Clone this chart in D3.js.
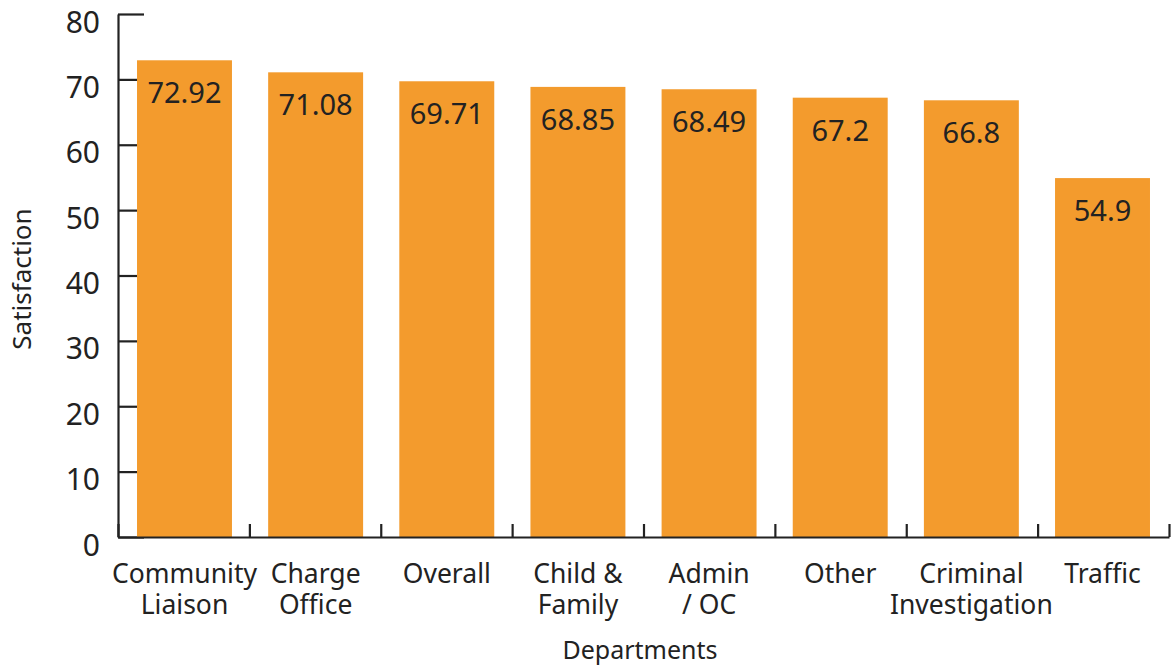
<!DOCTYPE html>
<html>
<head>
<meta charset="utf-8">
<script src="https://cdn.jsdelivr.net/npm/d3@7/dist/d3.min.js"></script>
<style>
  html, body { margin: 0; padding: 0; background: #fff; }
  svg { display: block; font-family: "Noto Sans", "Open Sans", sans-serif; }
</style>
</head>
<body>
<svg id="chart" width="1171" height="668"></svg>
<script>
// Satisfaction score by department
const departments = [
  ["Community", "Liaison"],
  ["Charge", "Office"],
  ["Overall"],
  ["Child &", "Family"],
  ["Admin", "/ OC"],
  ["Other"],
  ["Criminal", "Investigation"],
  ["Traffic"]
];
const satisfaction = [72.92, 71.08, 69.71, 68.85, 68.49, 67.2, 66.8, 54.9];
const yTicks = [0, 10, 20, 30, 40, 50, 60, 70, 80];
const xTitle = "Departments";
const yTitle = "Satisfaction";

const svg = d3.select("#chart");
const ink = "#222";
const barColor = "#F39B2D";
const font = "'Noto Sans', 'Open Sans', sans-serif";

const plotLeft = 118, plotRight = 1169, plotTop = 14, plotBottom = 537;
const keys = departments.map(d => d.join(" "));

const x = d3.scaleBand()
  .domain(keys)
  .range([plotLeft, plotRight])
  .paddingInner(0.276)
  .paddingOuter(0.145);

const y = d3.scaleLinear().domain([0, 80]).range([plotBottom, plotTop]);

// y axis, ticks pointing inward (bars sit over them)
const yAxis = svg.append("g")
  .attr("transform", `translate(${plotLeft},0)`)
  .call(d3.axisLeft(y).tickValues(yTicks).tickSize(-26).tickSizeOuter(0).tickPadding(18));
yAxis.select(".domain").attr("stroke", ink).attr("stroke-width", 2.2);
yAxis.selectAll(".tick line").attr("stroke", ink).attr("stroke-width", 2.2);
yAxis.selectAll(".tick text")
  .attr("fill", ink)
  .attr("dy", "0.6em")
  .style("font-size", "30px")
  .style("font-family", font);

// bars
const rows = keys.map((k, i) => ({ key: k, value: satisfaction[i] }));
svg.append("g").selectAll("rect")
  .data(rows)
  .join("rect")
  .attr("x", d => x(d.key))
  .attr("y", d => y(d.value))
  .attr("width", x.bandwidth())
  .attr("height", d => y(0) - y(d.value))
  .attr("fill", barColor);

// value labels inside the bars
svg.append("g").selectAll("text")
  .data(rows)
  .join("text")
  .attr("x", d => x(d.key) + x.bandwidth() / 2)
  .attr("y", d => y(d.value) + 43)
  .attr("text-anchor", "middle")
  .attr("fill", ink)
  .style("font-size", "29px")
  .text(d => d.value);

// x axis: baseline with short upward ticks at the band boundaries
const edges = d3.scaleLinear().domain([0, keys.length]).range([plotLeft, plotRight]);
const xAxis = svg.append("g")
  .attr("transform", `translate(0,${plotBottom})`)
  .call(d3.axisBottom(edges).tickValues(d3.range(0, keys.length + 1)).tickSize(-13).tickSizeOuter(0).tickFormat(""));
xAxis.select(".domain").attr("stroke", ink).attr("stroke-width", 2.2);
xAxis.selectAll(".tick line").attr("stroke", ink).attr("stroke-width", 2.2);

// category labels, one or two lines
const cat = svg.append("g").selectAll("text")
  .data(departments)
  .join("text")
  .attr("text-anchor", "middle")
  .attr("fill", ink)
  .style("font-size", "26.5px")
  .attr("transform", (d, i) => `translate(${x(keys[i]) + x.bandwidth() / 2},583)`);
cat.selectAll("tspan")
  .data(d => d)
  .join("tspan")
  .attr("x", 0)
  .attr("y", (d, j) => j * 31)
  .text(d => d);

// axis titles
svg.append("text")
  .attr("x", 640)
  .attr("y", 659)
  .attr("text-anchor", "middle")
  .attr("fill", ink)
  .style("font-size", "25px")
  .text(xTitle);

svg.append("text")
  .attr("transform", `translate(31,279) rotate(-90)`)
  .attr("text-anchor", "middle")
  .attr("fill", ink)
  .style("font-size", "26px")
  .text(yTitle);
</script>
</body>
</html>
